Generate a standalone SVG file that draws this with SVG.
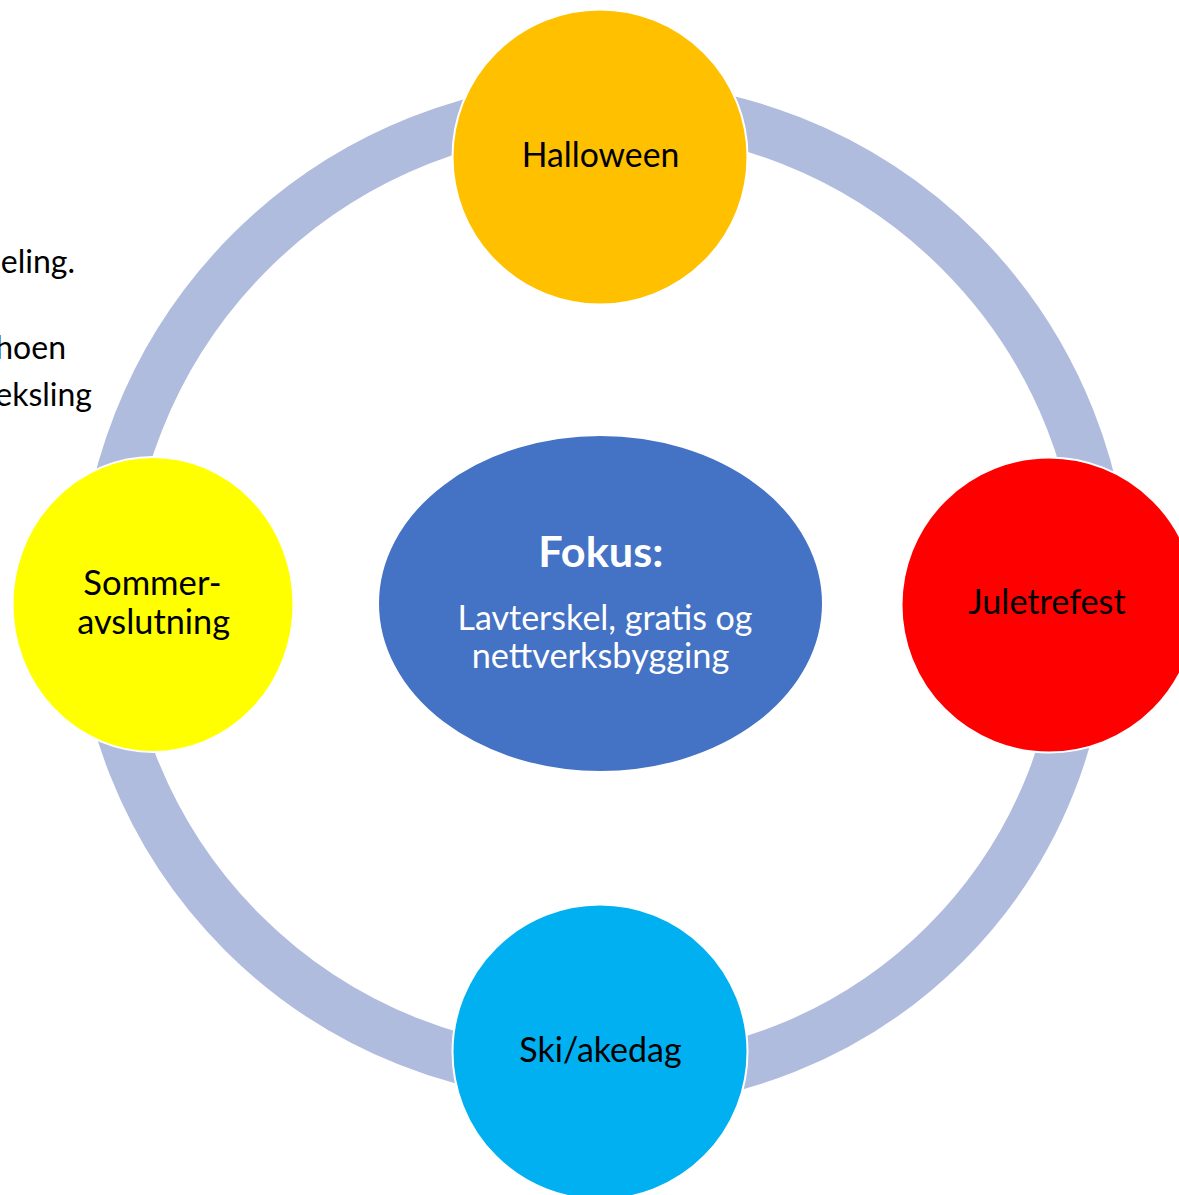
<svg xmlns="http://www.w3.org/2000/svg" width="1179" height="1195" viewBox="0 0 1179 1195">
  <style>
    .ring { fill: none; stroke: #B0BCDE; stroke-width: 50; }
    .node { stroke: #FFFFFF; stroke-width: 2; }
    .lbl { font-family: "Lato", "Liberation Sans", sans-serif; font-size: 34px; fill: #000000; text-anchor: middle; }
    .ctr { font-family: "Lato", "Liberation Sans", sans-serif; font-size: 34px; fill: #FFFFFF; text-anchor: middle; }
    .ctrb { font-family: "Lato", "Liberation Sans", sans-serif; font-size: 42px; font-weight: bold; fill: #FFFFFF; text-anchor: middle; }
    .frag { font-family: "Lato", "Liberation Sans", sans-serif; font-size: 32px; fill: #000000; text-anchor: end; }
  </style>
  <rect x="0" y="0" width="1179" height="1195" fill="#FFFFFF"/>

  <g id="background-text">
    <text class="frag" x="75" y="273">eling.</text>
    <text class="frag" x="66" y="359">hoen</text>
    <text class="frag" x="92" y="406">eksling</text>
  </g>

  <g id="connectors">
    <path class="ring" d="M 609 106 A 496 496 0 0 1 1105 602"/>
    <path class="ring" d="M 1084 609 A 473 473 0 0 1 611 1082"/>
    <path class="ring" d="M 589 1076 A 490 490 0 0 1 99 586"/>
    <path class="ring" d="M 103.4 606 A 500.6 500.6 0 0 1 604 105.4"/>
  </g>

  <g id="fokus">
    <ellipse class="node" cx="600.5" cy="603.5" rx="222.5" ry="168.5" fill="#4472C4"/>
    <text class="ctrb" x="600.8" y="566.7" textLength="125" lengthAdjust="spacingAndGlyphs">Fokus:</text>
    <text class="ctr" x="605" y="630" textLength="295" lengthAdjust="spacingAndGlyphs">Lavterskel, gratis og</text>
    <text class="ctr" x="600.5" y="668.3" textLength="257.6" lengthAdjust="spacingAndGlyphs">nettverksbygging</text>
  </g>

  <g id="halloween">
    <circle class="node" cx="600" cy="157" r="147.5" fill="#FFC000"/>
    <text class="lbl" x="600.5" y="166.7" textLength="157.6" lengthAdjust="spacingAndGlyphs">Halloween</text>
  </g>

  <g id="juletrefest">
    <circle class="node" cx="1049" cy="605" r="147.5" fill="#FF0000"/>
    <text class="lbl" x="1047" y="614.3" textLength="157.3" lengthAdjust="spacingAndGlyphs">Juletrefest</text>
  </g>

  <g id="ski-akedag">
    <circle class="node" cx="600" cy="1052" r="147.5" fill="#00B0F0"/>
    <text class="lbl" x="600.5" y="1061.7" textLength="162.4" lengthAdjust="spacingAndGlyphs">Ski/akedag</text>
  </g>

  <g id="sommeravslutning">
    <ellipse class="node" cx="153" cy="604.5" rx="140.5" ry="147.5" fill="#FFFF00"/>
    <text class="lbl" x="152.5" y="595" textLength="138.4" lengthAdjust="spacingAndGlyphs">Sommer-</text>
    <text class="lbl" x="153.7" y="634" textLength="152.7" lengthAdjust="spacingAndGlyphs">avslutning</text>
  </g>
</svg>
